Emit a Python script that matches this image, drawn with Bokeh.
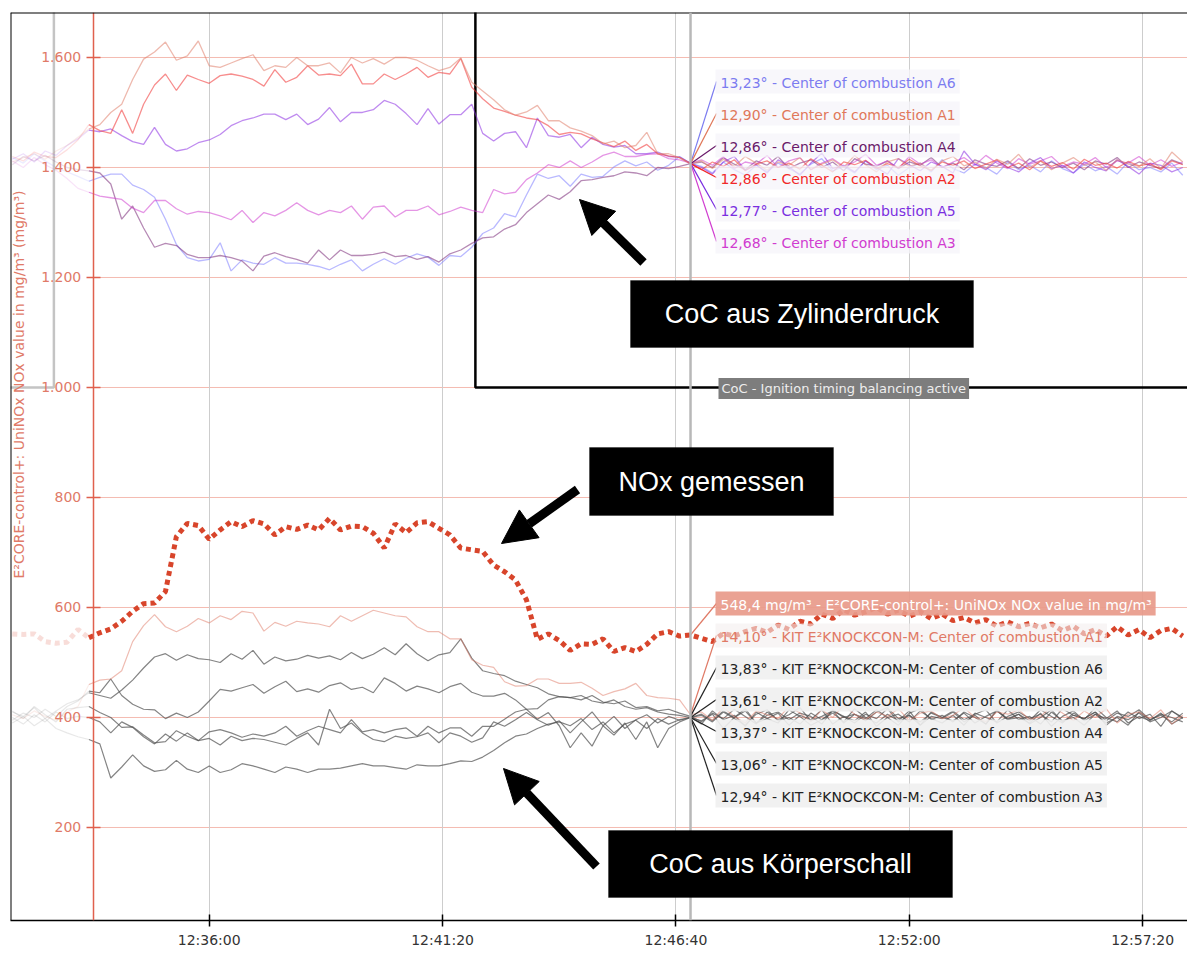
import numpy as np
import pandas as pd
from math import pi
from bokeh.plotting import figure
from bokeh.models import (Range1d, FixedTicker, DatetimeTickFormatter, Span, Label,
                          BoxAnnotation, Arrow, NormalHead)
from bokeh.embed import file_html
from bokeh.resources import INLINE

# ---------------- data ----------------
DAY = "2020-01-01 "
first_sample = "12:31:30"
sample_seconds = 15
n_samples = 108

view_start = "12:31:27.5"
view_end = "12:58:21.5"
axis_time = "12:33:21"
cursor_time = "12:47:00"

x_tick_times = ["12:36:00", "12:41:20", "12:46:40", "12:52:00", "12:57:20"]
y_ticks = [200, 400, 600, 800, 1000, 1200, 1400, 1600]
y_tick_labels = ["200", "400", "600", "800", "1.000", "1.200", "1.400", "1.600"]

y_axis_title = "E²CORE-control+: UniNOx NOx value in mg/m³ (mg/m³)"

# NOx measured (mg/m3)
nox = [552, 551, 552, 538, 535, 537, 560, 545,
       554, 561, 575, 593, 607, 608, 629, 729, 753, 749, 724, 741, 756, 747, 758, 752, 732, 747, 742, 750,
       741, 762, 741, 748, 747, 735, 708, 752, 736, 754, 756, 744, 732, 708, 705, 702, 677, 665, 650, 614,
       542, 552,
       540, 522, 534, 533, 543, 520, 527, 520, 533, 552, 556, 548, 550, 544, 538, 553,
       548, 556, 562, 555, 568, 560, 575, 570, 588, 580, 596, 586, 592, 600, 588, 595, 584, 592, 580, 588,
       576, 582, 572, 578, 566, 574, 565, 571, 563, 570, 558, 566, 552, 560, 548, 565, 550, 560, 545, 558,
       562, 548]

# Center of combustion from cylinder pressure (deg)
coc_cyl_A1 = [13.10, 13.18, 13.25, 13.15, 13.30, 13.40, 13.55, 13.70,
              13.78, 14.00, 14.15, 14.60, 14.97, 15.10, 15.28, 14.95, 15.03, 15.30, 14.85, 14.82, 14.90, 14.98,
              15.05, 14.76, 14.85, 14.82, 15.00, 14.85, 14.85, 14.90, 14.72, 15.00, 14.90, 14.98, 14.88, 15.00,
              15.00, 14.95, 14.85, 14.76, 14.82, 14.99, 14.55, 14.39, 14.23, 14.05, 13.95, 14.01, 14.13, 13.85,
              13.85, 13.72, 13.66, 13.58, 13.43, 13.48, 13.36, 13.40, 13.64, 13.25, 13.25, 13.18, 13.07,
              13.12, 12.98, 13.15, 13.02, 13.20, 13.08, 12.95, 13.10, 13.04, 13.18, 12.96, 13.06, 13.14, 13.00,
              13.22, 13.05, 12.92, 13.10, 13.16, 13.02, 13.08, 12.94, 13.12, 13.20, 13.03, 13.10, 12.98, 13.15,
              13.06, 13.24, 13.00, 13.12, 12.96, 13.08, 13.18, 13.04, 13.10, 12.95, 13.14, 13.06, 13.02, 13.16,
              12.98, 13.28, 13.10]
coc_cyl_A2 = [13.20, 13.12, 13.28, 13.20, 13.18, 13.32, 13.50, 13.78,
              13.67, 13.62, 14.05, 13.62, 14.15, 14.50, 14.70, 14.40, 14.68, 14.60, 14.53, 14.67, 14.70, 14.66,
              14.60, 14.48, 14.78, 14.55, 14.64, 14.85, 14.68, 14.70, 14.67, 14.88, 14.52, 14.52, 14.70, 14.60,
              14.70, 14.82, 14.64, 14.73, 14.70, 14.98, 14.46, 14.25, 14.08, 14.02, 13.95, 13.90, 13.87, 13.76,
              13.60, 13.64, 13.61, 13.52, 13.45, 13.38, 13.48, 13.31, 13.42, 13.25, 13.21, 13.18, 13.07,
              12.96, 13.10, 13.02, 13.14, 12.94, 13.06, 13.12, 13.00, 13.08, 12.97, 13.16, 13.04, 12.92, 13.10,
              13.05, 13.13, 12.98, 13.07, 13.00, 13.15, 13.03, 12.95, 13.10, 13.04, 13.12, 12.98, 13.06, 13.14,
              13.00, 13.08, 12.96, 13.12, 13.02, 13.09, 12.97, 13.15, 13.04, 13.08, 12.99, 13.11, 13.03, 13.07,
              12.96, 13.12, 13.05]
coc_cyl_A3 = [13.12, 13.00, 13.18, 13.05, 12.95, 12.80, 12.62, 12.55,
              12.48, 12.45, 12.42, 12.26, 12.18, 12.40, 12.40, 12.25, 12.15, 12.20, 12.18, 12.12, 12.05, 12.22,
              12.00, 12.18, 12.12, 12.22, 12.36, 12.22, 12.14, 12.22, 12.18, 12.30, 12.06, 12.28, 12.30, 12.10,
              12.22, 12.22, 12.30, 12.14, 12.20, 12.28, 12.22, 12.18, 12.60, 12.52, 12.55, 12.78, 12.90, 13.05,
              13.00, 13.12, 13.00, 13.10, 13.22, 13.28, 13.20, 13.20, 13.24, 13.25, 13.16, 13.14, 13.08,
              13.14, 13.04, 13.20, 12.98, 13.10, 13.06, 13.22, 13.00, 13.12, 13.18, 12.96, 13.08, 13.16, 13.02,
              13.10, 13.24, 13.04, 13.12, 12.98, 13.20, 13.06, 13.14, 13.00, 13.10, 13.18, 13.04, 13.22, 13.08,
              12.98, 13.16, 13.06, 13.12, 13.20, 13.02, 13.10, 13.06, 13.18, 13.00, 13.12, 13.08, 13.20, 13.04,
              13.14, 13.02, 13.10]
coc_cyl_A4 = [13.05, 13.20, 13.12, 13.22, 13.10, 13.00, 12.96, 12.94,
              12.90, 12.70, 12.06, 12.30, 11.90, 11.55, 11.62, 11.58, 11.42, 11.36, 11.36, 11.40, 11.36, 11.30,
              11.12, 11.39, 11.45, 11.38, 11.33, 11.26, 11.50, 11.32, 11.50, 11.40, 11.40, 11.42, 11.46, 11.38,
              11.40, 11.33, 11.38, 11.28, 11.43, 11.50, 11.62, 11.72, 11.74, 11.88, 11.96, 12.18, 12.34, 12.50,
              12.42, 12.56, 12.76, 12.78, 12.82, 12.85, 12.92, 12.90, 12.85, 13.00, 12.98, 13.02, 13.07,
              13.10, 13.00, 13.18, 13.06, 12.96, 13.12, 13.04, 13.20, 12.98, 13.08, 13.14, 13.00, 13.10, 12.94,
              13.16, 13.06, 13.02, 13.12, 12.98, 13.10, 13.04, 13.18, 13.00, 13.08, 12.96, 13.14, 13.06, 13.02,
              13.12, 12.98, 13.16, 13.04, 13.10, 13.00, 13.08, 12.96, 13.12, 13.06, 13.18, 13.00, 13.10, 13.04,
              12.98, 13.14, 13.06]
coc_cyl_A5 = [13.15, 13.25, 13.10, 13.30, 13.22, 13.40, 13.52, 13.68,
              13.65, 13.70, 13.58, 13.47, 13.42, 13.73, 13.42, 13.30, 13.34, 13.45, 13.50, 13.60, 13.76, 13.85,
              13.90, 13.97, 13.97, 13.87, 13.97, 13.78, 13.88, 14.09, 13.83, 14.00, 14.00, 14.05, 14.22, 14.15,
              13.98, 13.78, 14.07, 13.79, 13.96, 13.96, 14.15, 13.62, 13.48, 13.62, 13.65, 13.36, 13.90, 13.58,
              13.55, 13.60, 13.36, 13.55, 13.42, 13.37, 13.40, 13.25, 13.25, 13.28, 13.20, 13.19, 13.08,
              13.00, 12.88, 13.10, 13.20, 12.95, 13.05, 12.90, 13.14, 13.02, 12.86, 13.08, 13.26, 12.98, 13.04,
              12.92, 13.12, 13.00, 12.88, 13.16, 13.05, 12.94, 13.10, 13.02, 12.90, 13.30, 13.06, 12.96, 13.12,
              13.00, 12.92, 13.08, 13.18, 12.98, 13.04, 12.90, 13.10, 13.00, 12.94, 13.14, 13.02, 12.88, 13.08,
              13.04, 12.92, 13.00]
coc_cyl_A6 = [13.18, 13.08, 13.25, 13.12, 13.00, 12.92, 12.84, 12.75,
              12.82, 12.88, 12.88, 12.68, 12.60, 12.46, 12.06, 11.60, 11.36, 11.30, 11.33, 11.63, 11.12, 11.32,
              11.26, 11.24, 11.36, 11.26, 11.26, 11.24, 11.20, 11.14, 11.24, 11.32, 11.12, 11.24, 11.34, 11.24,
              11.35, 11.43, 11.37, 11.22, 11.40, 11.38, 11.55, 11.80, 11.90, 12.16, 12.10, 12.50, 12.88, 12.80,
              12.85, 12.66, 12.88, 12.82, 12.84, 13.01, 13.12, 13.03, 13.10, 12.95, 13.04, 13.20, 13.07,
              13.02, 12.90, 13.10, 12.96, 12.86, 13.04, 12.92, 13.08, 12.98, 12.88, 13.06, 13.16, 12.94, 13.02,
              12.90, 13.12, 12.96, 13.04, 12.86, 13.00, 13.08, 12.92, 13.14, 12.98, 12.90, 13.06, 13.00, 12.88,
              13.10, 12.96, 13.04, 12.92, 13.12, 12.98, 12.90, 13.06, 12.94, 13.02, 12.88, 13.10, 12.96, 13.00,
              12.92, 13.08, 12.86]

# Center of combustion from structure-borne sound (deg)
coc_ks_A1 = [13.05, 12.98, 13.12, 13.02, 12.95, 13.10, 13.20, 13.60,
             13.68, 13.70, 13.85, 14.38, 14.67, 14.87, 14.65, 14.56, 14.66, 14.80, 14.72, 14.85, 14.78, 14.93,
             14.90, 14.57, 14.73, 14.66, 14.75, 14.72, 14.70, 14.65, 14.85, 14.75, 14.85, 14.95, 14.90, 14.85,
             14.83, 14.65, 14.56, 14.56, 14.43, 14.43, 14.05, 13.95, 13.91, 13.65, 13.57, 13.58, 13.70, 13.70,
             13.62, 13.62, 13.64, 13.53, 13.40, 13.47, 13.52, 13.62, 13.40, 13.36, 13.35, 13.32, 13.05,
             13.10, 12.95, 13.18, 13.02, 12.90, 13.12, 13.05, 12.98, 13.20, 13.08, 12.92, 13.14, 13.00, 13.22,
             13.06, 12.96, 13.10, 13.02, 13.16, 12.94, 13.08, 13.12, 12.98, 13.04, 13.18, 13.00, 12.92, 13.10,
             13.06, 13.14, 12.96, 13.02, 13.20, 13.08, 12.94, 13.12, 13.00, 13.16, 12.90, 13.06, 13.10, 12.98,
             13.14, 12.88, 13.04]
coc_ks_A2 = [12.95, 13.08, 13.00, 13.15, 13.02, 13.20, 13.30, 13.48,
             13.45, 13.70, 13.40, 13.24, 13.15, 13.14, 12.98, 13.08, 13.00, 13.10, 13.30, 13.51, 13.48, 13.54,
             13.60, 13.44, 13.56, 13.66, 13.47, 13.52, 13.46, 13.58, 13.63, 13.51, 13.55, 13.45, 13.72, 13.62,
             13.48, 13.57, 13.52, 13.45, 13.56, 13.62, 13.46, 13.39, 13.39, 13.44, 13.32, 13.15, 13.16, 13.32,
             13.38, 13.36, 13.40, 13.30, 13.26, 13.32, 13.20, 13.15, 13.18, 13.10, 13.06, 13.04, 13.00,
             13.06, 12.94, 13.12, 13.00, 13.16, 12.90, 13.04, 13.10, 12.96, 13.08, 13.02, 12.88, 13.14, 13.00,
             13.06, 12.94, 13.10, 13.18, 12.98, 13.04, 12.92, 13.08, 13.00, 13.12, 12.96, 13.06, 13.14, 12.90,
             13.02, 13.10, 12.98, 13.06, 12.92, 13.16, 13.04, 12.98, 13.10, 12.94, 13.08, 13.02, 13.14, 12.96,
             13.06, 13.00, 12.92]
coc_ks_A3 = [12.90, 13.02, 12.85, 12.98, 12.80, 12.72, 12.65, 12.60,
             12.52, 11.90, 12.10, 12.32, 12.12, 12.02, 12.05, 12.22, 12.06, 12.00, 12.12, 12.00, 12.05, 12.16,
             12.12, 12.06, 12.00, 12.10, 12.06, 12.00, 12.06, 12.06, 12.08, 12.12, 12.16, 12.12, 12.12, 12.09,
             12.06, 12.14, 12.12, 12.12, 12.16, 12.21, 12.20, 12.28, 12.40, 12.54, 12.66, 12.70, 12.80, 12.88,
             12.92, 12.85, 12.98, 12.78, 12.92, 12.72, 12.88, 12.95, 12.80, 12.98, 12.88, 12.96, 13.00,
             13.04, 12.92, 13.10, 12.98, 12.86, 13.06, 13.14, 12.94, 13.00, 12.88, 13.08, 12.96, 13.12, 13.02,
             12.90, 13.06, 12.98, 13.16, 12.92, 13.04, 12.86, 13.10, 13.00, 12.94, 13.08, 12.90, 13.02, 13.12,
             12.96, 13.06, 12.88, 13.00, 13.14, 12.92, 13.04, 12.98, 13.10, 12.86, 13.02, 12.96, 13.08, 12.92,
             13.00, 13.12, 12.98]
coc_ks_A4 = [13.00, 12.88, 13.05, 12.92, 13.10, 12.98, 13.02, 13.00,
             12.92, 12.72, 12.92, 12.82, 12.65, 12.52, 12.70, 12.57, 12.72, 12.58, 12.62, 12.50, 12.66, 12.58,
             12.62, 12.60, 12.55, 12.50, 12.62, 12.72, 12.50, 13.15, 12.80, 12.90, 12.72, 12.60, 12.56, 12.66,
             12.62, 12.65, 12.72, 12.54, 12.72, 12.66, 12.55, 12.63, 12.92, 12.84, 12.96, 13.09, 12.96, 12.86,
             12.94, 12.72, 12.92, 13.10, 12.85, 13.02, 12.80, 12.96, 13.05, 12.90, 13.02, 12.95, 13.00,
             12.88, 13.12, 12.96, 13.04, 12.84, 13.10, 12.98, 12.90, 13.14, 13.02, 12.86, 12.96, 13.08, 12.92,
             13.16, 13.00, 12.90, 13.06, 12.94, 13.12, 12.86, 13.02, 12.98, 13.10, 12.92, 13.04, 12.88, 13.14,
             12.96, 13.00, 12.90, 13.08, 12.84, 13.02, 13.12, 12.94, 13.06, 12.90, 13.00, 12.86, 13.10, 12.96,
             13.04, 12.92, 13.08]
coc_ks_A5 = [13.12, 12.98, 13.20, 13.05, 12.92, 13.15, 13.18, 13.20,
             13.09, 13.00, 12.82, 12.83, 12.68, 12.54, 12.56, 12.76, 12.66, 12.58, 12.74, 12.78, 12.72, 12.64,
             12.70, 12.66, 12.72, 12.84, 12.66, 12.76, 12.84, 12.78, 12.72, 12.96, 12.74, 12.78, 12.72, 12.78,
             12.81, 12.66, 12.84, 12.72, 12.81, 12.81, 12.66, 12.84, 12.84, 12.97, 13.10, 13.15, 12.97, 13.09,
             12.85, 12.45, 12.72, 12.48, 12.85, 12.68, 12.90, 12.60, 12.92, 12.45, 12.80, 12.92, 13.00,
             12.94, 13.06, 12.80, 13.00, 13.12, 12.90, 12.98, 13.08, 12.86, 13.04, 12.96, 13.14, 12.88, 13.02,
             12.94, 13.10, 12.84, 13.00, 13.06, 12.92, 13.12, 12.98, 12.90, 13.04, 12.86, 13.08, 13.00, 12.92,
             13.14, 12.96, 13.02, 12.88, 13.10, 12.94, 13.00, 12.86, 13.06, 12.98, 13.12, 12.90, 13.02, 12.94,
             13.08, 12.88, 13.00]
coc_ks_A6 = [13.10, 13.02, 13.18, 12.98, 13.12, 13.25, 13.32, 13.45,
             13.40, 13.35, 13.50, 13.68, 13.90, 14.10, 14.16, 14.04, 14.14, 14.07, 14.05, 14.00, 14.16, 14.06,
             14.22, 13.97, 14.10, 14.03, 14.06, 14.13, 14.08, 14.12, 14.05, 14.18, 14.07, 14.15, 14.27, 14.14,
             14.34, 14.16, 14.03, 14.14, 14.18, 14.43, 14.08, 13.85, 13.80, 13.76, 13.66, 13.60, 13.54, 13.43,
             13.38, 13.36, 13.32, 13.40, 13.28, 13.25, 13.30, 13.18, 13.20, 13.12, 13.15, 13.08, 13.02,
             12.92, 13.08, 12.98, 13.15, 13.02, 12.88, 13.10, 12.96, 13.05, 13.18, 12.94, 13.02, 13.12, 12.90,
             13.06, 12.98, 13.14, 13.00, 12.86, 13.08, 13.16, 12.96, 13.04, 12.92, 13.10, 13.00, 12.88, 13.12,
             12.98, 13.06, 12.94, 13.14, 13.02, 12.90, 13.08, 12.96, 13.18, 13.00, 12.92, 13.10, 12.98, 13.06,
             12.84, 13.12, 13.00]

# ignition timing balancing active (0/1 step signal)
balancing_times = ["12:31:27", "12:32:27", "12:42:05", "12:58:22"]
balancing_state = [0, 1, 0, 0]

cyl_names = ["A6", "A1", "A4", "A2", "A5", "A3"]
cyl_label_values = ["13,23°", "12,90°", "12,86°", "12,86°", "12,77°", "12,68°"]
ks_names = ["A1", "A6", "A2", "A4", "A5", "A3"]
ks_label_values = ["14,10°", "13,83°", "13,61°", "13,37°", "13,06°", "12,94°"]
nox_label_value = "548,4 mg/m³"

# ---------------- helpers ----------------
def ms(t):
    return pd.Timestamp(DAY + t).value / 1e6

times = pd.Timestamp(DAY + first_sample) + pd.to_timedelta(np.arange(n_samples) * sample_seconds, unit="s")
i_axis = int(np.searchsorted(times, pd.Timestamp(DAY + axis_time)))
i_cursor = int(times.get_loc(pd.Timestamp(DAY + cursor_time)))

X0, X1 = ms(view_start), ms(view_end)
Y0, Y1 = 30.9, 1681.8
FL, FT, FW, FH = 10, 12, 1177, 908


def sx(px):
    return X0 + (px - FL) / FW * (X1 - X0)


def sy(py):
    return Y1 - (py - FT) / FH * (Y1 - Y0)


top_rng = Range1d(-0.691, 15.818)
ks_rng = Range1d(9.309, 25.818)
bal_rng = Range1d(-0.9691, 0.6818)


def to_main(v, rng):
    return Y0 + (v - rng.start) / (rng.end - rng.start) * (Y1 - Y0)


# ---------------- figure ----------------
p = figure(frame_width=FW, frame_height=FH, x_axis_type="datetime",
           x_range=Range1d(X0, X1), y_range=Range1d(Y0, Y1),
           output_backend="svg", toolbar_location=None,
           min_border_left=FL, min_border_right=0, min_border_top=FT, min_border_bottom=0)
p.extra_y_ranges = {"cyl": top_rng, "ks": ks_rng, "bal": bal_rng}
p.outline_line_color = None
p.background_fill_color = "white"
p.border_fill_color = "white"

xt = FixedTicker(ticks=[ms(t) for t in x_tick_times])
yt = FixedTicker(ticks=y_ticks)
xa = p.xaxis[0]
xa.ticker = xt
fmt = "%H:%M:%S"
xa.formatter = DatetimeTickFormatter(milliseconds=fmt, seconds=fmt, minsec=fmt, minutes=fmt,
                                     hourmin=fmt, hours=fmt, days=fmt, months=fmt, years=fmt)
xa.axis_line_color = "black"
xa.axis_line_width = 1.5
xa.major_tick_in = 6
xa.major_tick_out = 6
xa.major_tick_line_color = "black"
xa.major_tick_line_width = 1.5
xa.minor_tick_line_color = None
xa.major_label_text_font = "DejaVu Sans"
xa.major_label_text_font_size = "14px"
xa.major_label_text_color = "#333333"
xa.major_label_standoff = 5

ya = p.yaxis[0]
ya.ticker = yt
ya.major_label_overrides = dict(zip(y_ticks, y_tick_labels))
ya.fixed_location = ms(axis_time)
ya.axis_line_color = "#e0604e"
ya.axis_line_width = 1.5
ya.major_tick_in = 7
ya.major_tick_out = 7
ya.major_tick_line_color = "#e0604e"
ya.major_tick_line_width = 1.5
ya.minor_tick_line_color = None
ya.major_label_text_font = "DejaVu Sans"
ya.major_label_text_font_size = "14px"
ya.major_label_text_color = "#e07a68"
ya.major_label_standoff = 5

p.xgrid[0].ticker = xt
p.xgrid[0].grid_line_color = "#cdcdcd"
p.ygrid[0].visible = False
# value grid lines, drawn only to the right of the value axis
ax_ms = ms(axis_time)
p.segment(x0=[ax_ms] * len(y_ticks), y0=y_ticks, x1=[X1] * len(y_ticks), y1=y_ticks,
          line_color="#f4bcb2", line_width=1, level="underlay")

# frame borders (top + left)
p.add_layout(Span(location=X0, dimension="height", line_color="black", line_width=2))
p.add_layout(Span(location=Y1, dimension="width", line_color="black", line_width=2))
# cursor
p.add_layout(Span(location=ms(cursor_time), dimension="height", line_color="#b8b8b8", line_width=2.5))

# ---------------- balancing step signal ----------------
bt = [ms(t) for t in balancing_times]
fx = [t for t in bt if t < ax_ms]
fy = balancing_state[:len(fx)]
fx2, fy2 = fx + [ax_ms], fy + [fy[-1]]
bx = [ax_ms] + [t for t in bt if t >= ax_ms]
by = [fy[-1]] + balancing_state[len(fx):]
p.step(fx2, fy2, mode="after", y_range_name="bal", line_color="#c4c4c4", line_width=2.5)
p.step(bx, by, mode="after", y_range_name="bal", line_color="black", line_width=2.5)

# ---------------- lines ----------------
cyl_series = {"A6": coc_cyl_A6, "A1": coc_cyl_A1, "A4": coc_cyl_A4,
              "A2": coc_cyl_A2, "A5": coc_cyl_A5, "A3": coc_cyl_A3}
cyl_colors = {"A6": "#8080ff", "A1": "#e0806c", "A4": "#7a2a78",
              "A2": "#f03030", "A5": "#8a2be2", "A3": "#d040d0"}
cyl_text_colors = {"A6": "#7c7cf0", "A1": "#e0785a", "A4": "#6a1a6a",
                   "A2": "#f02828", "A5": "#7a2ee0", "A3": "#d03cd0"}
ks_series = {"A1": coc_ks_A1, "A6": coc_ks_A6, "A2": coc_ks_A2,
             "A4": coc_ks_A4, "A5": coc_ks_A5, "A3": coc_ks_A3}

for name in ["A6", "A4", "A3", "A5", "A2", "A1"]:
    arr = cyl_series[name]
    p.line(times[:i_axis], arr[:i_axis], y_range_name="cyl", line_color=cyl_colors[name],
           line_alpha=0.15, line_width=1.3)
    p.line(times[i_axis - 1:], arr[i_axis - 1:], y_range_name="cyl", line_color=cyl_colors[name],
           line_alpha=0.55, line_width=1.3)

for name in ["A6", "A2", "A4", "A5", "A3", "A1"]:
    arr = ks_series[name]
    col = "#e07a66" if name == "A1" else "#505050"
    alpha = 0.5 if name == "A1" else 0.7
    p.line(times[:i_axis], arr[:i_axis], y_range_name="ks", line_color=col,
           line_alpha=0.13, line_width=1.2)
    p.line(times[i_axis - 1:], arr[i_axis - 1:], y_range_name="ks", line_color=col,
           line_alpha=alpha, line_width=1.2)

p.line(times[:i_axis], nox[:i_axis], line_color="#d8452b", line_alpha=0.18, line_width=5, line_dash="5 4")
p.line(times[i_axis - 1:], nox[i_axis - 1:], line_color="#d8452b", line_width=5, line_dash="5 4")

# ---------------- cursor labels ----------------
top_rows_px = [81, 113, 145, 177, 209, 241]
bottom_rows_px = [603, 635, 667, 699, 731, 763, 795]
cx = ms(cursor_time)
lx = sx(716)
LABEL_FONT = "14px"

for i, name in enumerate(cyl_names):
    v0 = to_main(cyl_series[name][i_cursor], top_rng)
    p.segment(x0=[cx], y0=[v0], x1=[lx], y1=[sy(top_rows_px[i])],
              line_color=cyl_text_colors[name], line_width=1.2)
    p.add_layout(Label(x=sx(715), y=sy(top_rows_px[i]),
                       text=f"{cyl_label_values[i]} - Center of combustion {name}",
                       text_font="DejaVu Sans", text_font_size=LABEL_FONT, text_color=cyl_text_colors[name],
                       text_baseline="middle", background_fill_color="#f6f4fa",
                       background_fill_alpha=0.75, padding=(5, 4, 5, 3)))

# NOx row
p.segment(x0=[cx], y0=[nox[i_cursor]], x1=[lx], y1=[sy(bottom_rows_px[0])],
          line_color="#e07a66", line_width=1.2)
p.add_layout(Label(x=sx(715), y=sy(bottom_rows_px[0]),
                   text=f"{nox_label_value} - {y_axis_title.replace(' (mg/m³)', '')}",
                   text_font="DejaVu Sans", text_font_size=LABEL_FONT, text_color="white",
                   text_baseline="middle", background_fill_color="#e89a8a",
                   background_fill_alpha=0.92, padding=(5, 4, 5, 3)))

for i, name in enumerate(ks_names):
    row = bottom_rows_px[i + 1]
    col = "#e07a66" if name == "A1" else "#222222"
    v0 = to_main(ks_series[name][i_cursor], ks_rng)
    p.segment(x0=[cx], y0=[v0], x1=[lx], y1=[sy(row)], line_color=col, line_width=1.2)
    p.add_layout(Label(x=sx(715), y=sy(row),
                       text=f"{ks_label_values[i]} - KIT E²KNOCKCON-M: Center of combustion {name}",
                       text_font="DejaVu Sans", text_font_size=LABEL_FONT, text_color=col,
                       text_baseline="middle",
                       background_fill_color="#f3eeee" if name == "A1" else "#efefef",
                       background_fill_alpha=0.6 if name == "A1" else 0.9, padding=(5, 4, 5, 3)))

p.add_layout(Label(x=sx(718), y=sy(388), text="CoC - Ignition timing balancing active",
                   text_font="DejaVu Sans", text_font_size="13px", text_color="#eeeeee",
                   text_baseline="middle", background_fill_color="#7d7d7d",
                   background_fill_alpha=1.0, padding=(3, 3, 3, 3)))

# y axis title
p.add_layout(Label(x=sx(18), y=sy(384), text=y_axis_title, angle=pi / 2,
                   text_align="center", text_baseline="middle",
                   text_font="DejaVu Sans", text_font_size="14px", text_color="#e07a68"))

# ---------------- callouts ----------------
boxes = [("CoC aus Zylinderdruck", 630, 973, 280, 347),
         ("NOx gemessen", 589, 833, 447, 515),
         ("CoC aus Körperschall", 608, 952, 830, 897)]
for txt, l, r, t, b in boxes:
    p.add_layout(BoxAnnotation(left=sx(l), right=sx(r), top=sy(t), bottom=sy(b),
                               fill_color="black", fill_alpha=1.0, line_color="black"))
    p.add_layout(Label(x=sx((l + r) / 2), y=sy((t + b) / 2), text=txt,
                       text_align="center", text_baseline="middle",
                       text_font="Liberation Sans", text_font_size="27px", text_color="white"))

arrows = [(643, 262, 579, 199), (577, 489, 501, 543), (596, 866, 503, 768)]
for x_s, y_s, x_e, y_e in arrows:
    p.add_layout(Arrow(x_start=sx(x_s), y_start=sy(y_s), x_end=sx(x_e), y_end=sy(y_e),
                       line_color="black", line_width=9,
                       end=NormalHead(size=34, fill_color="black", line_color="black", line_width=1)))

open("out.html", "w").write(file_html(p, INLINE))
